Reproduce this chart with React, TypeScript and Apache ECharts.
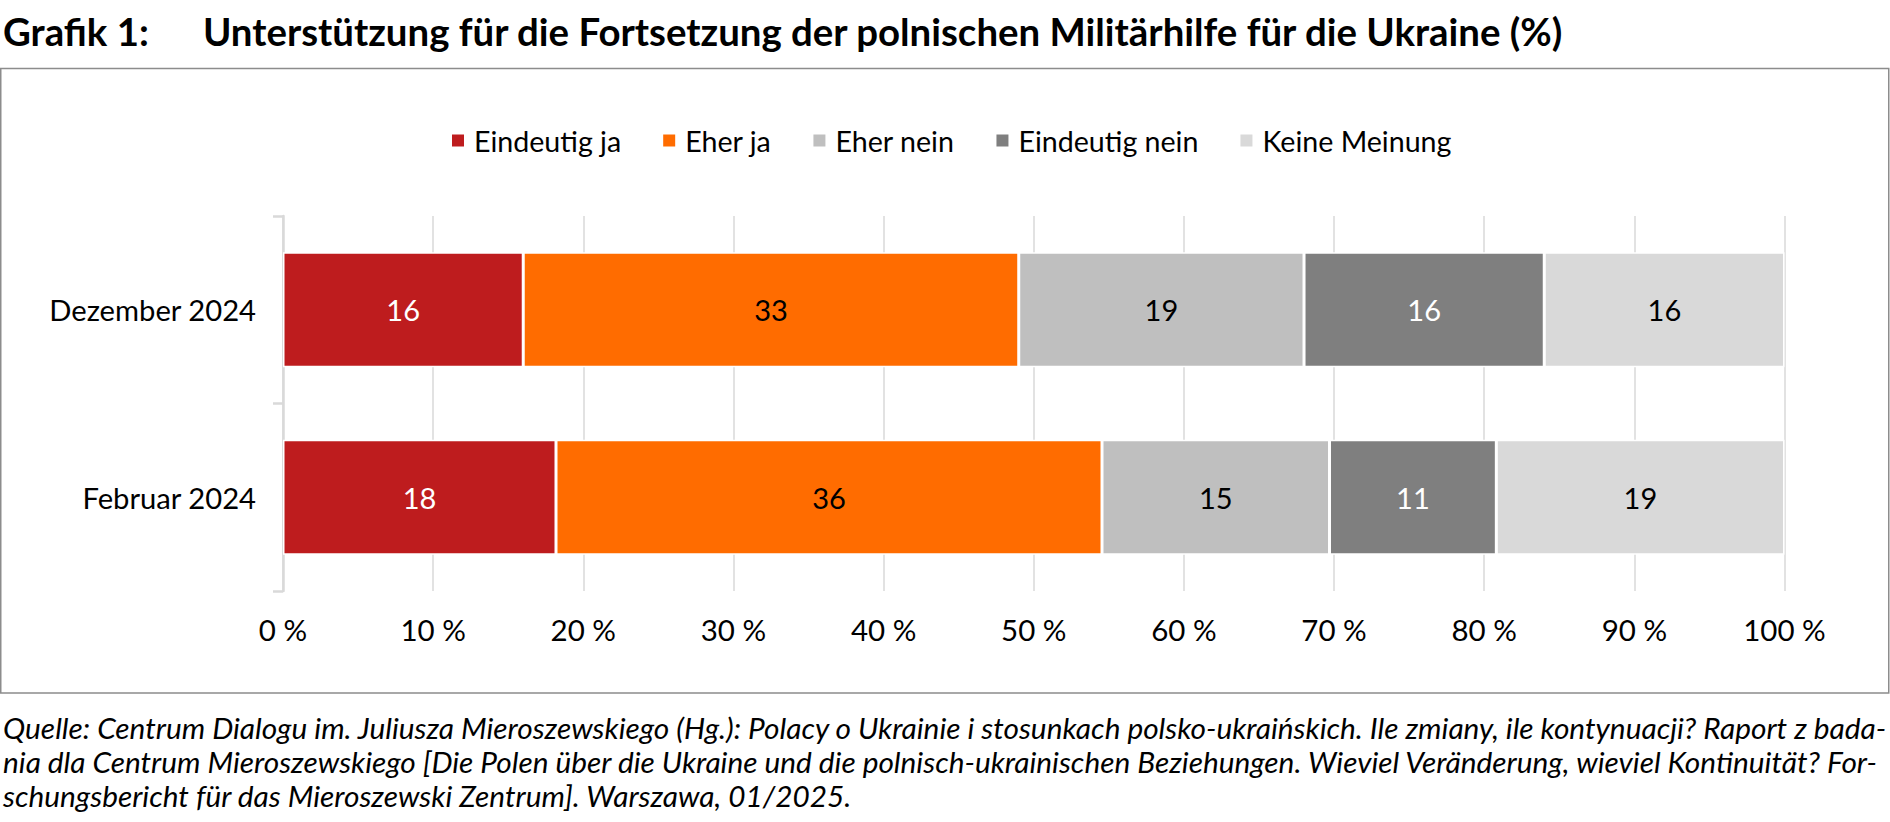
import React, { useEffect, useRef } from "react";
import * as echarts from "echarts";

const categories = ["Dezember 2024", "Februar 2024"];
const seriesNames = ["Eindeutig ja", "Eher ja", "Eher nein", "Eindeutig nein", "Keine Meinung"];
const eindeutigJa = [16, 18];
const eherJa = [33, 36];
const eherNein = [19, 15];
const eindeutigNein = [16, 11];
const keineMeinung = [16, 19];
const xTicks = [0, 10, 20, 30, 40, 50, 60, 70, 80, 90, 100];

const colors = ["#BE1C1E", "#FF6C00", "#BFBFBF", "#7F7F7F", "#D9D9D9"];
const labelColors = ["#ffffff", "#000000", "#000000", "#ffffff", "#000000"];

const titleLabel = "Grafik 1:";
const titleText = "Unterstützung für die Fortsetzung der polnischen Militärhilfe für die Ukraine (%)";
const footerLines = [
  "Quelle: Centrum Dialogu im. Juliusza Mieroszewskiego (Hg.): Polacy o Ukrainie i stosunkach polsko-ukraińskich. Ile zmiany, ile kontynuacji? Raport z bada-",
  "nia dla Centrum Mieroszewskiego [Die Polen über die Ukraine und die polnisch-ukrainischen Beziehungen. Wieviel Veränderung, wieviel Kontinuität? For-",
  "schungsbericht für das Mieroszewski Zentrum]. Warszawa, 01/2025.",
];

export default function App() {
  const ref = useRef<HTMLDivElement>(null);
  useEffect(() => {
    if (!ref.current) return;
    const chart = echarts.init(ref.current, null, { renderer: "svg" });
    const raw = [eindeutigJa, eherJa, eherNein, eindeutigNein, keineMeinung];
    const totals = categories.map((_, i) => raw.reduce((s, arr) => s + arr[i], 0));
    const series = raw.map((arr, si) => ({
      name: seriesNames[si],
      type: "bar",
      stack: "total",
      barWidth: 115,
      data: arr.map((v, i) => ({ value: (v / totals[i]) * 100, raw: v })),
      itemStyle: { color: colors[si], borderColor: "#ffffff", borderWidth: 1.5 },
      label: {
        show: true,
        position: "inside",
        color: labelColors[si],
        fontFamily: "Lato",
        fontSize: 29,
        formatter: (p: any) => String(p.data.raw),
      },
    }));
    chart.setOption({
      animation: false,
      backgroundColor: "#ffffff",
      color: colors,
      textStyle: { fontFamily: "Lato" },
      legend: {
        data: seriesNames,
        left: 445,
        top: 121,
        icon: "rect",
        itemWidth: 14,
        itemHeight: 14,
        itemGap: 40,
        textStyle: { fontFamily: "Lato", fontSize: 28.6, color: "#000", padding: [0, 0, 0, 4] },
      },
      grid: { left: 283, right: 105.5, top: 216, bottom: 231 },
      xAxis: {
        type: "value",
        min: xTicks[0],
        max: xTicks[xTicks.length - 1],
        interval: 10,
        axisLine: { show: false },
        axisTick: { show: false },
        splitLine: { show: true, lineStyle: { color: "#D9D9D9", width: 1.5 } },
        axisLabel: {
          margin: 23,
          color: "#000",
          fontFamily: "Lato",
          fontSize: 29.5,
          formatter: (v: number) => `${v} %`,
        },
      },
      yAxis: {
        type: "category",
        data: categories,
        inverse: true,
        axisLine: { show: true, lineStyle: { color: "#D9D9D9", width: 2.5 } },
        axisTick: { show: true, length: 10, lineStyle: { color: "#D9D9D9", width: 2.5 } },
        axisLabel: { margin: 27, color: "#000", fontFamily: "Lato", fontSize: 29.2 },
      },
      graphic: [
        {
          type: "rect",
          shape: { x: 0.75, y: 68.5, width: 1888, height: 624.5 },
          style: { fill: "none", stroke: "#8C8C8C", lineWidth: 1.5 },
          silent: true,
        },
        {
          type: "text",
          x: 3,
          y: 30.5,
          style: { text: titleLabel, font: "bold 38.4px Lato", fill: "#000", textVerticalAlign: "middle" },
        },
        {
          type: "text",
          x: 203,
          y: 30.5,
          style: { text: titleText, font: "bold 38.4px Lato", fill: "#000", textVerticalAlign: "middle" },
        },
        ...footerLines.map((t, i) => ({
          type: "text",
          x: 3,
          y: 727 + i * 34,
          style: { text: t, font: "italic 29.8px Lato", fill: "#000", textVerticalAlign: "middle" },
        })),
      ],
      series,
    });
    return () => chart.dispose();
  }, []);
  return (
    <div
      ref={ref}
      style={{ position: "fixed", left: 0, top: 0, width: 1890, height: 822, background: "#fff" }}
    />
  );
}
